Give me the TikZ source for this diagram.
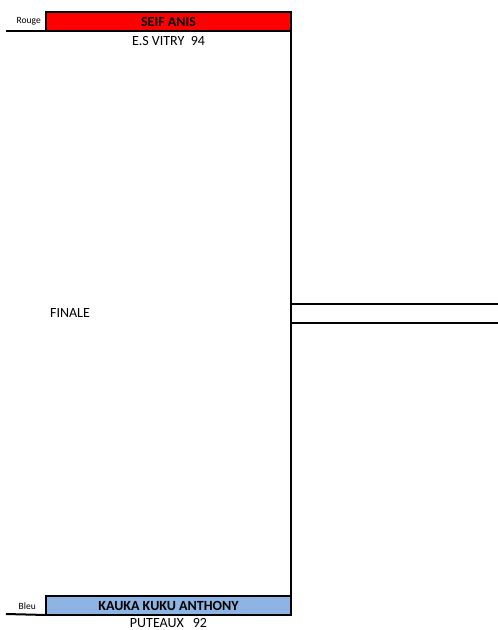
\documentclass[tikz,border=0pt]{standalone}
\usepackage{fontspec}
\setmainfont{Carlito}
\usetikzlibrary{positioning}
\definecolor{coinrouge}{HTML}{FF0000}
\definecolor{coinbleu}{HTML}{8DB4E2}
\tikzset{
  fighter/.style={rectangle, draw=black, line width=2.5pt, minimum width=245pt,
              minimum height=19pt, inner sep=0pt, outer sep=0pt, anchor=north west,
              font=\fontsize{14}{16}\selectfont\bfseries},
  fighterr/.style={fighter, fill=coinrouge},
  fighterb/.style={fighter, fill=coinbleu},
  club/.style={inner sep=0pt, font=\fontsize{14}{16}\selectfont},
  corner/.style={inner sep=0pt, anchor=east, font=\fontsize{9.5}{11}\selectfont},
  rule/.style={line width=2pt, draw=black},
}

\begin{document}
\begin{tikzpicture}[x=1pt, y=-1pt]
  \useasboundingbox (0,0) rectangle (498,630);
  % combattants
  \node[fighterr] (seif) at (46,12) {SEIF ANIS};
  \node[fighterb] (kauka) at (46,596) {KAUKA KUKU ANTHONY};
  \node[club, below=5pt of seif] (vitry) {E.S VITRY\ \ 94};
  \node[club, below=3pt of kauka] (puteaux) {PUTEAUX\hspace{9pt}92};
  \node[corner] (rouge) at (41,21) {Rouge};
  \node[corner] (bleu) at (36,606) {Bleu};
  \coordinate (rl) at (6,31);
  \coordinate (bl) at (6,614);
  \draw[rule] (rl) -- (seif.south west);
  \draw[rule] (bl) -- (kauka.south west);
  % finale
  \node[inner sep=0pt, outer sep=0pt, minimum width=207pt, minimum height=19pt, anchor=north west] (finale) at (291,304) {};
  \node[club] (lfinale) at (70,313) {FINALE};
  \draw[rule] (seif.north east) -- (kauka.south east);
  \draw[rule, line width=2.5pt] (finale.north west) -- (finale.north east)
    (finale.south west) -- (finale.south east);
\end{tikzpicture}
\end{document}
